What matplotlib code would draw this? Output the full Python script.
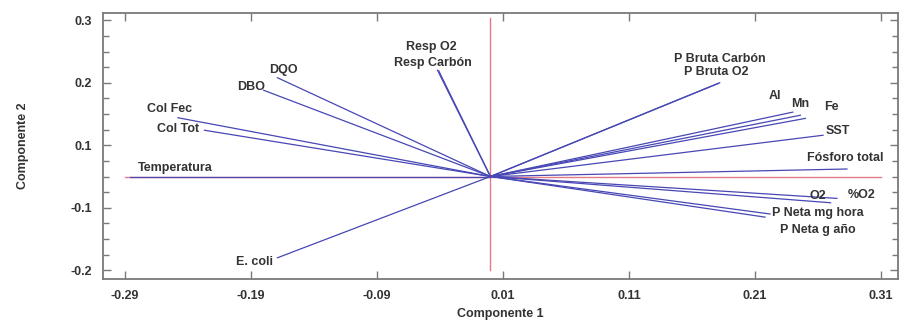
import matplotlib.pyplot as plt
import numpy as np

# Pesos de los componentes (biplot)
variables = ["DQO", "DBO", "Col Fec", "Col Tot", "Temperatura", "E. coli",
             "Resp O2", "Resp Carbón", "P Bruta Carbón", "P Bruta O2",
             "Al", "Mn", "Fe", "SST", "Fósforo total", "%O2", "O2",
             "P Neta mg hora", "P Neta g año"]
comp1 = [-0.169, -0.180, -0.248, -0.227, -0.286, -0.169,
         -0.042, -0.041, 0.182, 0.181,
         0.240, 0.246, 0.250, 0.264, 0.283, 0.275, 0.270,
         0.222, 0.218]
comp2 = [0.158, 0.138, 0.094, 0.074, 0.0, -0.130,
         0.170, 0.169, 0.150, 0.149,
         0.103, 0.098, 0.093, 0.066, 0.012, -0.035, -0.042,
         -0.060, -0.065]

xticks = [-0.29, -0.19, -0.09, 0.01, 0.11, 0.21, 0.31]
xtick_labels = ["-0.29", "-0.19", "-0.09", "0.01", "0.11", "0.21", "0.31"]
yticks = [0.25, 0.15, 0.05, -0.05, -0.15]
ytick_labels = ["0.3", "0.2", "0.1", "-0.1", "-0.2"]

# desplazamiento de cada etiqueta respecto al extremo del vector (pixeles)
offsets = [(6, 8), (-13, 3), (-8, 9), (-26, 1), (45, 9), (-23, -4),
           (-6, 23), (-6, 8), (0, 24), (-2, 11),
           (-18, 16), (0, 11), (26, 11), (15, 4), (-2, 11), (25, 3), (-13, 7),
           (48, 1), (53, -13)]

plt.rcParams['font.family'] = ['Liberation Sans', 'DejaVu Sans']
txt_col = '#333333'

fig = plt.figure(figsize=(9.01, 3.2), dpi=100)
ax = fig.add_axes([103/901, 41/320, 795/901, 266/320])

# lineas de referencia
ax.plot([xticks[0], xticks[-1]], [0, 0], color='#e27a88', lw=1.0, zorder=1)
ax.plot([0, 0], [yticks[-1], 0.254], color='#e27a88', lw=1.0, zorder=1)

for name, x, y, off in zip(variables, comp1, comp2, offsets):
    ax.plot([0, x], [0, y], color='#4747b5', lw=0.9, zorder=2)
    ax.annotate(name, (x, y), xytext=off, textcoords='offset pixels',
                ha='center', va='center', fontsize=9, fontweight='bold',
                color=txt_col)

ax.set_xlim(-0.3075, 0.3235)
ax.set_ylim(-0.164, 0.2616)

ax.set_xticks(xticks)
ax.set_xticklabels(xtick_labels)
ax.set_yticks(yticks)
ax.set_yticklabels(ytick_labels)
ax.set_yticks(np.arange(-0.15, 0.26, 0.025), minor=True)

ax.tick_params(axis='both', which='major', direction='in', length=6,
               width=1, color='#7a7a7a', labelsize=9, labelcolor=txt_col,
               top=True, right=True)
ax.tick_params(axis='x', which='major', pad=8)
ax.tick_params(axis='y', which='major', pad=8)
ax.tick_params(axis='y', which='minor', direction='in', length=4,
               width=1, color='#7a7a7a', right=True)
for lab in ax.get_xticklabels() + ax.get_yticklabels():
    lab.set_fontweight('bold')

for s in ax.spines.values():
    s.set_color('#7a7a7a')
    s.set_linewidth(1.3)

ax.set_xlabel("Componente 1", fontsize=9, fontweight='bold', color=txt_col,
              labelpad=4)
ax.set_ylabel("Componente 2", fontsize=9, fontweight='bold', color=txt_col,
              labelpad=30)

fig.savefig("out.png", dpi=100)
